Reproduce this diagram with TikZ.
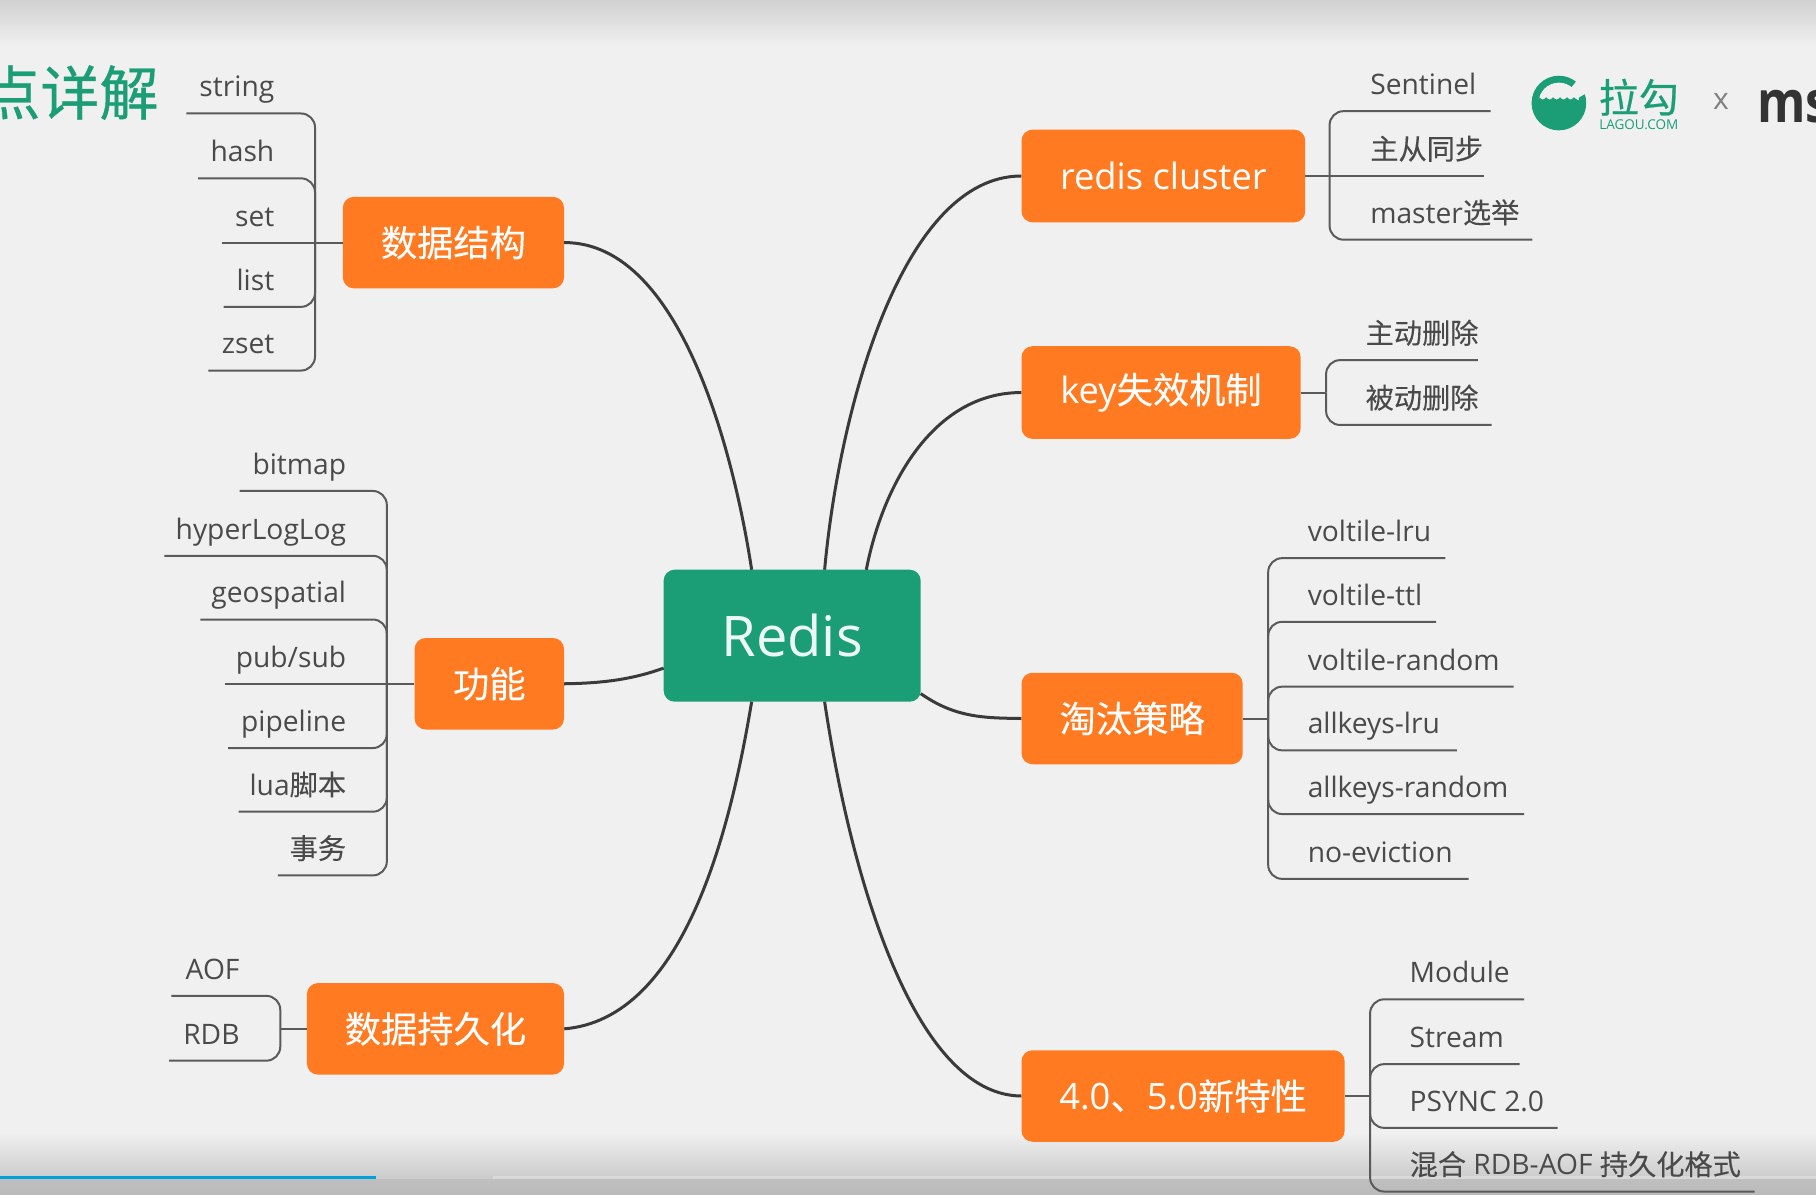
\documentclass[tikz,border=0pt]{standalone}
\usepackage{graphicx}
\usepackage{fontspec}
\setmainfont{Open Sans}
\newfontfamily\cjk[FakeBold=0.15]{Noto Sans CJK SC}
\newfontfamily\cjkb[FakeBold=0.6]{Noto Sans CJK SC}
\newcommand\fpx[1]{\fontsize{#1}{#1}\selectfont}
\definecolor{bgc}{HTML}{F0F0F0}
\definecolor{topicc}{HTML}{FF7A20}
\definecolor{rootc}{HTML}{1B9E76}
\definecolor{linec}{HTML}{5A5A5A}
\definecolor{curvec}{HTML}{3A3A3A}
\definecolor{txtc}{HTML}{4A4A4A}
\definecolor{barc}{HTML}{00A0D8}
\tikzset{
  topic/.style={fill=topicc,rounded corners=11pt,text=white,inner sep=0pt,font=\fpx{36.3}},
  rootn/.style={fill=rootc,rounded corners=11pt,text=white!92!rootc,inner sep=0pt,font=\fpx{56}},
  leaf/.style={text=txtc,inner sep=0pt,font=\fpx{28.2}},
  branch/.style={draw=linec,line width=2pt,rounded corners=14pt},
  curve/.style={draw=curvec,line width=3pt},
}
\newcommand\topicn[6]{\node[topic,minimum width={(#4-#2)*1.158pt},minimum height={(#5-#3)*1.158pt}] (#1) at ({(#2+#4)/2},{(#3+#5)/2}) {#6};}
% name, text x, y of line, free end x, junction, text
\newcommand\lleaf[6]{\node[leaf,anchor=base east] (#1) at (#2,#3-14.3) {#6};\coordinate (#1e) at (#4,#3);\draw[branch] (#5) |- (#1e);}
\newcommand\rleaf[6]{\node[leaf,anchor=base west] (#1) at (#2,#3-14.3) {#6};\coordinate (#1e) at (#4,#3);\draw[branch] (#5) |- (#1e);}
\begin{document}
\begin{tikzpicture}[x=1.15816pt,y=-1.15795pt]
\useasboundingbox (0,0) rectangle (1568,1032);
\fill[bgc] (0,0) rectangle (1568,1032);
\shade[top color=black!18,bottom color=bgc] (0,0) rectangle (1568,40);
\shade[top color=bgc,bottom color=black!20] (0,978) rectangle (1568,1017);
\shade[top color=black!25,bottom color=black!27] (0,1017) rectangle (1568,1032);
\fill[black!15] (426,1016) rectangle (1568,1018.5);
\fill[black!20] (325,1016) rectangle (426,1018.5);
\fill[barc] (0,1016) rectangle (325,1018.5);

% title
\node[anchor=east,text=rootc,inner sep=0pt,font=\cjkb\fpx{59}] (title) at (137,80) {点详解};

% logo
\fill[rootc] (1346,89) circle (23.6);
\begin{scope}
  \clip (1322,60) rectangle (1372,86);
  \fill[bgc] (1346,89) circle (17.6);
\end{scope}
\fill[bgc] (1350,84) -- (1362,69) -- (1372,79) -- (1362,85) -- cycle;
\fill[rootc] (1329,86) -- (1329,84) sin (1332,86) cos (1335,84) sin (1338,86) cos (1341,84) sin (1344,86) cos (1347,84) sin (1350,86) cos (1353,84) sin (1356,86) cos (1359,84) sin (1362,86) -- (1362,90) -- (1329,90) -- cycle;
\node[text=rootc,inner sep=0pt,font=\cjkb\fpx{40}] (lagou) at (1415,84) {拉勾};
\node[text=rootc,inner sep=0pt,font=\fpx{13.5}] (lagoucom) at (1415,108) {LAGOU.COM};
\node[text=black!50,inner sep=0pt,font=\fontsize{30}{30}\selectfont] (xmark) at (1486,88) {x};
\node[anchor=base west,text=black!80,inner sep=0pt,font=\bfseries\fpx{58}] (msn) at (1517,106) {\scalebox{0.85}[1]{ms}};

% root + topics
\node[rootn,minimum width={222*1.158pt},minimum height={114*1.158pt}] (redis) at (684,549) {Redis};
\topicn{tds}{296}{170}{487}{249}{{\cjk 数据结构}}
\topicn{tfn}{358}{551}{487}{630}{{\cjk 功能}}
\topicn{tpe}{265}{849}{487}{928}{{\cjk 数据持久化}}
\topicn{tcl}{882}{112}{1127}{192}{\raisebox{1.5pt}{redis cluster}}
\topicn{tke}{882}{299}{1123}{379}{key{\cjk 失效机制}}
\topicn{tev}{882}{581}{1073}{660}{{\cjk 淘汰策略}}
\topicn{tnw}{882}{907}{1161}{986}{4.0{\cjk 、}5.0{\cjk 新特性}}

% curves
\coordinate (ra) at (649,492);
\coordinate (rb) at (712,492);
\coordinate (rc) at (748,492);
\coordinate (rd) at (649,606);
\coordinate (re) at (712,606);
\coordinate (rf) at (795,599);
\coordinate (rg) at (573,577);
\draw[curve] (tds.east) .. controls (590,209) and (635,400) .. (ra);
\draw[curve] (tcl.west) .. controls (780,152) and (725,350) .. (rb);
\draw[curve] (tke.west) .. controls (805,339) and (762,420) .. (rc);
\draw[curve] (tfn.east) .. controls (520,590) and (545,587) .. (rg);
\draw[curve] (tev.west) .. controls (850,620) and (825,620) .. (rf);
\draw[curve] (tpe.east) .. controls (590,880) and (630,720) .. (rd);
\draw[curve] (tnw.west) .. controls (790,946) and (735,760) .. (re);

% data structures
\coordinate (jds) at (272,209.5);
\coordinate (lsete) at (192,209.5);
\draw[branch] (tds.west) -- (lsete);
\node[leaf,anchor=base east] (lset) at (237,195.2) {set};
\lleaf{lstr}{237}{98}{161}{jds}{string}
\lleaf{lhas}{237}{154}{171}{jds}{hash}
\lleaf{llis}{237}{265}{193}{jds}{list}
\lleaf{lzse}{237}{320}{180}{jds}{zset}

% functions
\coordinate (jfn) at (334,590.5);
\coordinate (lpube) at (194,590.5);
\draw[branch] (tfn.west) -- (lpube);
\node[leaf,anchor=base east] (lpub) at (299,576.2) {pub/sub};
\lleaf{lbit}{299}{424}{207}{jfn}{bitmap}
\lleaf{lhyp}{299}{480}{142}{jfn}{hyperLogLog}
\lleaf{lgeo}{299}{535}{173}{jfn}{geospatial}
\lleaf{lpip}{299}{646}{197}{jfn}{pipeline}
\lleaf{llua}{299}{701}{206}{jfn}{lua{\cjk 脚本}}
\lleaf{lswu}{299}{756}{240}{jfn}{{\cjk 事务}}

% persistence
\coordinate (jpe) at (242,888.5);
\draw[branch] (tpe.west) -- (jpe);
\lleaf{laof}{207}{860}{148}{jpe}{AOF}
\lleaf{lrdb}{207}{916}{146}{jpe}{RDB}

% cluster
\coordinate (jcl) at (1148,152);
\coordinate (lzce) at (1281,152);
\draw[branch] (tcl.east) -- (lzce);
\node[leaf,anchor=base west] (lzc) at (1183,137.7) {{\cjk 主从同步}};
\rleaf{lsen}{1183}{96}{1287}{jcl}{Sentinel}
\rleaf{lmas}{1183}{207}{1323}{jcl}{master{\cjk 选举}}

% key expiry
\coordinate (jke) at (1145,339);
\draw[branch] (tke.east) -- (jke);
\rleaf{lact}{1179}{311}{1276}{jke}{{\cjk 主动删除}}
\rleaf{lpas}{1179}{367}{1288}{jke}{{\cjk 被动删除}}

% eviction
\coordinate (jev) at (1095,620.5);
\draw[branch] (tev.east) -- (jev);
\rleaf{lvlr}{1129}{482}{1248}{jev}{voltile-lru}
\rleaf{lvtt}{1129}{537}{1240}{jev}{voltile-ttl}
\rleaf{lvra}{1129}{593}{1307}{jev}{voltile-random}
\rleaf{lalr}{1129}{648}{1258}{jev}{allkeys-lru}
\rleaf{lara}{1129}{703}{1316}{jev}{allkeys-random}
\rleaf{lnoe}{1129}{759}{1268}{jev}{no-eviction}

% new features
\coordinate (jnw) at (1183,946.5);
\draw[branch] (tnw.east) -- (jnw);
\rleaf{lmod}{1217}{863}{1316}{jnw}{Module}
\rleaf{lstm}{1217}{919}{1312}{jnw}{Stream}
\rleaf{lpsy}{1217}{974}{1345}{jnw}{PSYNC 2.0}
\rleaf{lmix}{1217}{1029}{1515}{jnw}{{\cjk 混合} RDB-AOF {\cjk 持久化格式}}
\end{tikzpicture}
\end{document}
